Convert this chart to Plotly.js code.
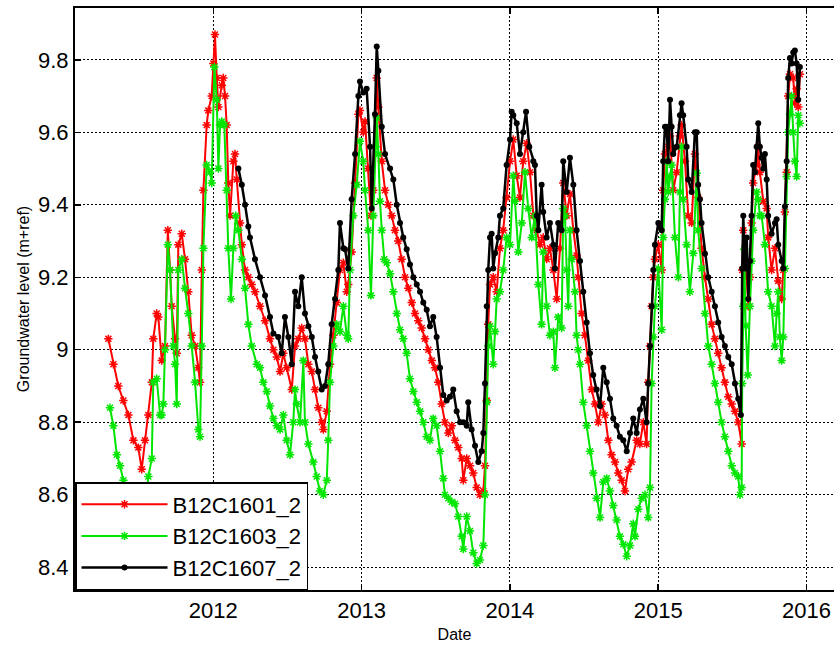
<!DOCTYPE html>
<html>
<head>
<meta charset="utf-8">
<script src="https://cdn.plot.ly/plotly-3.0.1.min.js"></script>
<style>
html,body{margin:0;padding:0;background:#fff;}
#chart{width:834px;height:648px;}
</style>
</head>
<body>
<div id="chart"></div>
<script>
// Series names
const seriesNames = ['B12C1601_2', 'B12C1603_2', 'B12C1607_2'];

// Time in decimal years, groundwater level in m+ref
const redT = [2011.292,2011.326,2011.359,2011.393,2011.427,2011.461,2011.494,2011.517,2011.539,2011.562,2011.585,2011.595,2011.618,2011.629,2011.652,2011.674,2011.693,2011.708,2011.719,2011.742,2011.753,2011.764,2011.787,2011.809,2011.831,2011.854,2011.877,2011.899,2011.910,2011.922,2011.933,2011.955,2011.966,2011.989,2012.000,2012.011,2012.023,2012.034,2012.057,2012.067,2012.079,2012.090,2012.101,2012.113,2012.135,2012.146,2012.158,2012.180,2012.192,2012.214,2012.236,2012.259,2012.281,2012.315,2012.349,2012.382,2012.405,2012.428,2012.450,2012.472,2012.495,2012.529,2012.551,2012.573,2012.596,2012.618,2012.641,2012.664,2012.686,2012.708,2012.731,2012.742,2012.765,2012.787,2012.809,2012.832,2012.854,2012.877,2012.900,2012.910,2012.933,2012.956,2012.978,2012.989,2013.011,2013.023,2013.045,2013.063,2013.079,2013.102,2013.113,2013.136,2013.158,2013.180,2013.203,2013.225,2013.247,2013.270,2013.293,2013.315,2013.338,2013.360,2013.382,2013.405,2013.428,2013.450,2013.473,2013.495,2013.517,2013.540,2013.562,2013.585,2013.608,2013.630,2013.652,2013.675,2013.686,2013.709,2013.731,2013.753,2013.776,2013.798,2013.821,2013.832,2013.844,2013.854,2013.866,2013.888,2013.911,2013.933,2013.955,2013.978,2014.001,2014.023,2014.046,2014.068,2014.090,2014.113,2014.136,2014.158,2014.181,2014.203,2014.225,2014.248,2014.270,2014.293,2014.316,2014.338,2014.360,2014.383,2014.405,2014.428,2014.450,2014.461,2014.484,2014.506,2014.529,2014.552,2014.574,2014.596,2014.619,2014.641,2014.664,2014.686,2014.709,2014.731,2014.754,2014.776,2014.798,2014.821,2014.855,2014.877,2014.900,2014.922,2014.933,2014.945,2014.956,2014.967,2014.978,2015.001,2015.024,2015.034,2015.046,2015.068,2015.080,2015.102,2015.125,2015.147,2015.158,2015.181,2015.203,2015.226,2015.248,2015.270,2015.293,2015.316,2015.338,2015.361,2015.383,2015.405,2015.428,2015.450,2015.473,2015.496,2015.518,2015.540,2015.563,2015.567,2015.574,2015.585,2015.597,2015.608,2015.619,2015.630,2015.641,2015.664,2015.675,2015.686,2015.709,2015.732,2015.742,2015.765,2015.788,2015.810,2015.833,2015.844,2015.855,2015.867,2015.877,2015.889,2015.911,2015.922,2015.934,2015.945,2015.956];
const redV = [9.03,8.96,8.90,8.86,8.82,8.75,8.73,8.67,8.75,8.82,8.91,9.03,9.10,9.09,8.97,9.01,9.33,9.22,9.12,9.03,8.99,9.29,9.32,9.25,9.16,9.04,9.01,8.95,8.91,9.22,9.44,9.62,9.66,9.70,9.79,9.87,9.75,9.67,9.73,9.75,9.70,9.62,9.46,9.37,9.52,9.54,9.47,9.35,9.29,9.22,9.20,9.18,9.16,9.12,9.08,9.03,9.00,8.98,8.94,8.99,8.95,8.89,9.01,9.03,9.06,9.03,8.96,8.94,8.89,8.84,8.80,8.78,8.83,8.96,9.04,9.13,9.22,9.24,9.16,9.18,9.27,9.46,9.65,9.66,9.60,9.63,9.50,9.37,9.44,9.75,9.67,9.52,9.44,9.40,9.37,9.33,9.30,9.25,9.20,9.17,9.13,9.10,9.08,9.06,9.03,9.00,8.97,8.95,8.91,8.85,8.80,8.77,8.79,8.75,8.73,8.70,8.64,8.70,8.68,8.66,8.62,8.60,8.61,8.68,8.86,9.07,9.18,9.20,9.16,9.28,9.33,9.42,9.52,9.58,9.48,9.42,9.52,9.57,9.49,9.37,9.33,9.29,9.31,9.25,9.28,9.22,9.14,9.28,9.46,9.37,9.43,9.33,9.26,9.20,9.10,9.04,8.97,8.89,8.85,8.80,8.85,8.82,8.75,8.71,8.69,8.66,8.64,8.61,8.67,8.69,8.75,8.74,8.80,8.74,8.91,9.01,9.12,9.20,9.25,9.29,9.22,9.44,9.54,9.56,9.59,9.44,9.49,9.59,9.62,9.52,9.37,9.35,9.54,9.42,9.28,9.20,9.14,9.07,9.03,8.99,8.95,8.91,8.87,8.85,8.83,8.80,8.74,9.22,9.33,9.22,9.20,9.12,9.20,9.35,9.46,9.51,9.56,9.49,9.41,9.39,9.31,9.22,9.28,9.19,9.14,9.22,9.38,9.49,9.70,9.76,9.75,9.68,9.72,9.67,9.76];

const greenT = [2011.303,2011.326,2011.349,2011.371,2011.393,2011.416,2011.438,2011.465,2011.492,2011.519,2011.546,2011.562,2011.585,2011.595,2011.618,2011.641,2011.652,2011.663,2011.674,2011.693,2011.708,2011.730,2011.742,2011.753,2011.764,2011.787,2011.809,2011.831,2011.854,2011.877,2011.899,2011.910,2011.922,2011.933,2011.955,2011.978,2011.989,2012.007,2012.023,2012.034,2012.045,2012.057,2012.074,2012.090,2012.101,2012.119,2012.135,2012.151,2012.169,2012.192,2012.214,2012.236,2012.259,2012.293,2012.315,2012.337,2012.360,2012.382,2012.405,2012.428,2012.450,2012.472,2012.495,2012.517,2012.539,2012.551,2012.562,2012.585,2012.607,2012.618,2012.641,2012.674,2012.697,2012.719,2012.742,2012.765,2012.775,2012.787,2012.809,2012.832,2012.854,2012.877,2012.900,2012.910,2012.922,2012.944,2012.967,2012.989,2013.011,2013.023,2013.045,2013.063,2013.079,2013.095,2013.102,2013.113,2013.124,2013.136,2013.153,2013.169,2013.192,2013.214,2013.237,2013.259,2013.281,2013.304,2013.326,2013.349,2013.372,2013.394,2013.416,2013.439,2013.461,2013.483,2013.506,2013.529,2013.551,2013.562,2013.585,2013.608,2013.630,2013.652,2013.675,2013.686,2013.709,2013.731,2013.753,2013.776,2013.798,2013.821,2013.832,2013.844,2013.854,2013.866,2013.888,2013.900,2013.911,2013.933,2013.955,2013.978,2014.001,2014.023,2014.034,2014.057,2014.080,2014.102,2014.124,2014.147,2014.169,2014.192,2014.214,2014.225,2014.248,2014.270,2014.293,2014.304,2014.326,2014.349,2014.360,2014.372,2014.383,2014.394,2014.405,2014.417,2014.439,2014.450,2014.461,2014.473,2014.495,2014.518,2014.540,2014.562,2014.585,2014.608,2014.630,2014.653,2014.675,2014.697,2014.720,2014.742,2014.765,2014.788,2014.810,2014.832,2014.844,2014.866,2014.889,2014.911,2014.933,2014.945,2014.956,2014.967,2014.978,2015.001,2015.024,2015.034,2015.046,2015.057,2015.068,2015.080,2015.091,2015.113,2015.136,2015.147,2015.158,2015.169,2015.192,2015.214,2015.237,2015.260,2015.270,2015.293,2015.316,2015.338,2015.361,2015.383,2015.405,2015.428,2015.450,2015.473,2015.496,2015.518,2015.540,2015.552,2015.563,2015.567,2015.574,2015.581,2015.590,2015.604,2015.619,2015.630,2015.641,2015.664,2015.675,2015.686,2015.698,2015.720,2015.742,2015.765,2015.788,2015.799,2015.810,2015.821,2015.833,2015.844,2015.855,2015.867,2015.877,2015.889,2015.900,2015.911,2015.922,2015.934,2015.945,2015.956];
const greenV = [8.84,8.79,8.71,8.68,8.64,8.61,8.58,8.55,8.54,8.56,8.60,8.65,8.70,8.91,8.92,8.82,8.82,8.85,9.00,9.29,9.22,9.01,8.96,8.85,9.22,9.25,9.17,9.10,9.01,8.91,8.78,8.76,9.01,9.28,9.51,9.49,9.46,9.78,9.69,9.50,9.62,9.63,9.62,9.44,9.28,9.14,9.28,9.37,9.33,9.25,9.17,9.07,9.01,8.96,8.95,8.91,8.885,8.845,8.81,8.79,8.78,8.82,8.75,8.71,8.80,8.89,8.85,8.80,8.97,8.80,8.74,8.69,8.65,8.61,8.60,8.64,8.75,8.91,9.01,9.07,9.05,9.12,9.04,9.03,9.22,9.37,9.455,9.575,9.52,9.44,9.33,9.15,9.37,9.56,9.64,9.54,9.41,9.33,9.25,9.24,9.21,9.16,9.10,9.055,9.03,8.99,8.92,8.885,8.855,8.83,8.80,8.76,8.75,8.81,8.79,8.72,8.645,8.60,8.59,8.58,8.575,8.54,8.485,8.45,8.54,8.50,8.44,8.41,8.42,8.46,8.60,8.855,9.01,9.065,8.96,9.05,9.14,9.16,9.22,9.31,9.29,9.48,9.41,9.27,9.35,9.49,9.39,9.31,9.37,9.18,9.07,9.27,9.12,9.04,9.05,8.95,9.09,9.06,9.39,9.37,9.22,9.12,9.33,9.25,9.16,9.04,9.00,8.96,8.855,8.79,8.72,8.66,8.59,8.537,8.635,8.645,8.61,8.57,8.53,8.485,8.463,8.43,8.46,8.52,8.485,8.56,8.59,8.60,8.537,8.62,8.907,9.035,9.12,9.224,9.055,9.31,9.415,9.52,9.435,9.478,9.51,9.31,9.20,9.435,9.56,9.415,9.29,9.16,9.266,9.488,9.33,9.224,9.10,9.01,8.96,8.907,8.855,8.80,8.76,8.72,8.68,8.66,8.65,8.60,8.62,8.907,9.12,9.277,9.066,8.93,9.12,9.245,9.33,9.435,9.415,9.37,9.37,9.29,9.16,9.12,9.01,9.10,9.16,9.035,8.97,9.035,9.224,9.478,9.60,9.65,9.70,9.60,9.52,9.478,9.647,9.625];

const blackT = [2012.169,2012.192,2012.214,2012.236,2012.247,2012.281,2012.315,2012.349,2012.382,2012.405,2012.438,2012.461,2012.483,2012.506,2012.529,2012.551,2012.573,2012.596,2012.618,2012.641,2012.664,2012.686,2012.708,2012.731,2012.753,2012.775,2012.798,2012.821,2012.843,2012.854,2012.877,2012.888,2012.910,2012.933,2012.956,2012.978,2012.989,2013.011,2013.034,2013.057,2013.068,2013.090,2013.102,2013.113,2013.136,2013.158,2013.192,2013.214,2013.237,2013.259,2013.281,2013.304,2013.326,2013.349,2013.372,2013.394,2013.416,2013.439,2013.461,2013.483,2013.506,2013.529,2013.551,2013.574,2013.596,2013.618,2013.641,2013.664,2013.686,2013.709,2013.719,2013.742,2013.765,2013.787,2013.810,2013.821,2013.832,2013.844,2013.854,2013.866,2013.877,2013.888,2013.900,2013.922,2013.933,2013.955,2013.978,2014.001,2014.012,2014.023,2014.046,2014.068,2014.090,2014.109,2014.131,2014.158,2014.169,2014.181,2014.192,2014.214,2014.225,2014.248,2014.270,2014.293,2014.304,2014.326,2014.349,2014.360,2014.383,2014.405,2014.428,2014.450,2014.473,2014.495,2014.518,2014.540,2014.562,2014.585,2014.608,2014.630,2014.653,2014.675,2014.697,2014.720,2014.742,2014.765,2014.788,2014.810,2014.832,2014.855,2014.877,2014.900,2014.922,2014.933,2014.945,2014.956,2014.967,2014.978,2015.001,2015.024,2015.034,2015.046,2015.057,2015.068,2015.080,2015.091,2015.102,2015.125,2015.147,2015.158,2015.169,2015.192,2015.203,2015.226,2015.248,2015.260,2015.270,2015.282,2015.293,2015.316,2015.338,2015.361,2015.383,2015.405,2015.428,2015.450,2015.473,2015.496,2015.518,2015.540,2015.558,2015.567,2015.574,2015.585,2015.597,2015.608,2015.619,2015.630,2015.641,2015.653,2015.664,2015.675,2015.686,2015.698,2015.709,2015.720,2015.732,2015.742,2015.765,2015.788,2015.799,2015.810,2015.833,2015.844,2015.855,2015.867,2015.877,2015.889,2015.900,2015.911,2015.922,2015.934,2015.945,2015.956];
const blackV = [9.50,9.455,9.40,9.34,9.31,9.25,9.20,9.15,9.09,9.045,9.035,8.99,9.09,9.035,8.96,9.16,9.12,9.20,9.10,9.065,9.035,8.98,8.94,8.89,8.90,8.96,9.07,9.14,9.22,9.35,9.28,9.277,9.224,9.415,9.54,9.70,9.74,9.71,9.72,9.56,9.39,9.65,9.837,9.77,9.615,9.54,9.50,9.47,9.40,9.35,9.31,9.277,9.235,9.20,9.18,9.16,9.13,9.11,9.065,9.09,9.035,8.95,8.875,8.86,8.87,8.89,8.83,8.80,8.80,8.79,8.855,8.78,8.735,8.69,8.72,8.77,8.907,9.12,9.22,9.31,9.32,9.224,9.266,9.31,9.37,9.39,9.51,9.58,9.657,9.647,9.625,9.54,9.60,9.657,9.56,9.52,9.51,9.37,9.33,9.455,9.38,9.31,9.35,9.29,9.224,9.35,9.33,9.52,9.435,9.53,9.455,9.33,9.245,9.16,9.075,8.99,8.93,8.89,8.845,8.95,8.91,8.865,8.81,8.79,8.76,8.75,8.72,8.77,8.81,8.77,8.835,8.865,8.80,8.907,9.01,9.12,9.22,9.29,9.35,9.33,9.52,9.615,9.615,9.52,9.69,9.615,9.54,9.56,9.647,9.68,9.647,9.56,9.47,9.435,9.60,9.60,9.455,9.415,9.35,9.265,9.20,9.16,9.12,9.075,9.035,9.01,8.98,8.96,8.907,8.865,8.82,9.224,9.37,9.224,9.31,9.14,9.245,9.37,9.51,9.49,9.56,9.625,9.56,9.53,9.50,9.54,9.47,9.37,9.32,9.35,9.36,9.29,9.245,9.224,9.395,9.52,9.75,9.805,9.79,9.82,9.826,9.79,9.69,9.78];

// Axis ticks
const xTickVals = [2012, 2013, 2014, 2015, 2016];
const xTickText = ['2012', '2013', '2014', '2015', '2016'];
const yTickVals = [8.4, 8.6, 8.8, 9.0, 9.2, 9.4, 9.6, 9.8];
const yTickText = ['8.4', '8.6', '8.8', '9', '9.2', '9.4', '9.6', '9.8'];

const FONT = 'Liberation Sans, Arial, sans-serif';

const traces = [
  {x: redT, y: redV, name: seriesNames[0], type: 'scatter', mode: 'lines+markers',
   line: {color: '#ff0000', width: 2},
   marker: {symbol: 'asterisk-open', size: 7, color: '#ff0000', line: {color: '#ff0000', width: 1.5}}},
  {x: greenT, y: greenV, name: seriesNames[1], type: 'scatter', mode: 'lines+markers',
   line: {color: '#00e600', width: 2},
   marker: {symbol: 'asterisk-open', size: 7, color: '#00e600', line: {color: '#00e600', width: 1.5}}},
  {x: blackT, y: blackV, name: seriesNames[2], type: 'scatter', mode: 'lines+markers',
   line: {color: '#000000', width: 2.5},
   marker: {symbol: 'circle', size: 6, color: '#000000'}}
];

const layout = {
  width: 834, height: 648,
  margin: {l: 75, r: 0, t: 8, b: 58},
  paper_bgcolor: '#ffffff', plot_bgcolor: '#ffffff',
  font: {family: FONT, color: '#000', size: 22},
  showlegend: true,
  legend: {x: 0, y: 0, xanchor: 'left', yanchor: 'bottom',
    bgcolor: '#ffffff', bordercolor: '#000', borderwidth: 1.5,
    font: {family: FONT, size: 22, color: '#000'}, itemwidth: 86, tracegroupgap: 0},
  xaxis: {
    type: 'linear', range: [2011.067, 2016.186],
    tickmode: 'array', tickvals: xTickVals, ticktext: xTickText,
    ticks: 'inside', ticklen: 6, tickwidth: 1.5, tickcolor: '#000',
    showline: true, linecolor: '#000', linewidth: 2, mirror: 'ticks',
    showgrid: true, gridcolor: '#000', gridwidth: 1, griddash: '2px,2px',
    zeroline: false,
    tickfont: {family: FONT, size: 22, color: '#000'},
    title: {text: 'Date', font: {family: FONT, size: 16, color: '#000'}, standoff: 6}
  },
  yaxis: {
    range: [8.337, 9.943],
    tickmode: 'array', tickvals: yTickVals, ticktext: yTickText,
    ticks: 'inside', ticklen: 6, tickwidth: 1.5, tickcolor: '#000',
    showline: true, linecolor: '#000', linewidth: 2, mirror: false,
    showgrid: true, gridcolor: '#000', gridwidth: 1, griddash: '2px,2px',
    zeroline: false,
    tickfont: {family: FONT, size: 22, color: '#000'},
    title: {text: 'Groundwater level (m+ref)', font: {family: FONT, size: 16, color: '#000'}, standoff: 4}
  }
};

Plotly.newPlot('chart', traces, layout, {staticPlot: true, displayModeBar: false});
</script>
</body>
</html>
